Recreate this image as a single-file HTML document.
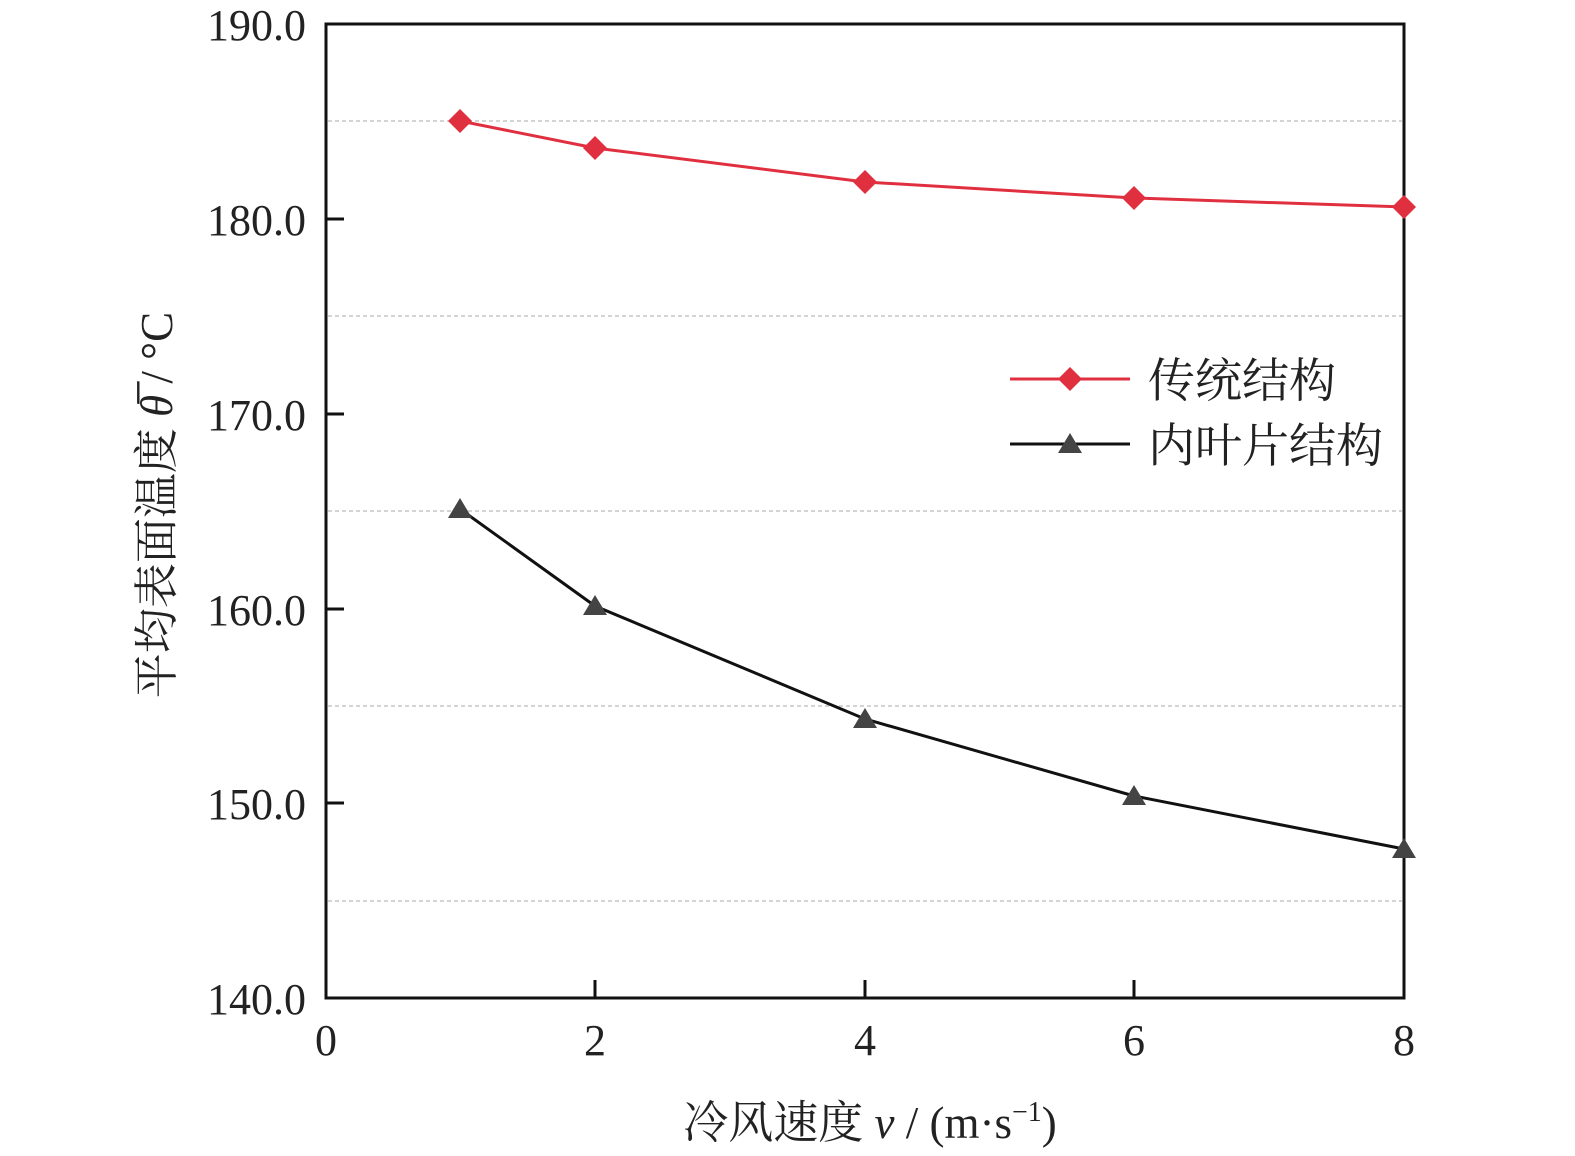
<!DOCTYPE html>
<html><head><meta charset="utf-8"><style>body{margin:0;background:#fff}svg{display:block}</style></head><body>
<svg width="1575" height="1156" viewBox="0 0 1575 1156" xmlns="http://www.w3.org/2000/svg" font-family="'Liberation Serif','Noto Serif CJK SC',serif">
<g stroke="#bbb" stroke-width="1.2" stroke-dasharray="4,3">
<line x1="328" y1="121" x2="1402" y2="121"/><line x1="328" y1="316" x2="1402" y2="316"/><line x1="328" y1="511" x2="1402" y2="511"/><line x1="328" y1="706" x2="1402" y2="706"/><line x1="328" y1="901" x2="1402" y2="901"/>
</g>
<rect x="326" y="24" width="1078" height="974" fill="none" stroke="#111" stroke-width="3"/>
<g stroke="#111" stroke-width="3">
<line x1="326" y1="219" x2="344" y2="219"/><line x1="326" y1="414" x2="344" y2="414"/><line x1="326" y1="609" x2="344" y2="609"/><line x1="326" y1="803" x2="344" y2="803"/>
<line x1="595" y1="998" x2="595" y2="980"/><line x1="865" y1="998" x2="865" y2="980"/><line x1="1134" y1="998" x2="1134" y2="980"/>
</g>
<g font-size="44" fill="#222" text-anchor="end">
<text x="306" y="40">190.0</text><text x="306" y="235">180.0</text><text x="306" y="430">170.0</text><text x="306" y="625">160.0</text><text x="306" y="819">150.0</text><text x="306" y="1014">140.0</text>
</g>
<g font-size="44" fill="#222" text-anchor="middle">
<text x="326" y="1055">0</text><text x="595" y="1055">2</text><text x="865" y="1055">4</text><text x="1134" y="1055">6</text><text x="1404" y="1055">8</text>
</g>
<text x="870" y="1138" font-size="45" fill="#222" text-anchor="middle">冷风速度 <tspan font-style="italic">v</tspan> / (m·s<tspan font-size="28" dy="-17">−1</tspan><tspan dy="17">)</tspan></text>
<text transform="translate(172,505) rotate(-90)" font-size="45" fill="#222" text-anchor="middle">平均表面温度 <tspan font-style="italic">θ̅</tspan> / °C</text>
<polyline points="460,121 595,148 865,182 1134,198 1404,207" fill="none" stroke="#e03040" stroke-width="3"/>
<g fill="#e0303f">
<path d="M460,109 L472,121 L460,133 L448,121Z"/><path d="M595,136 L607,148 L595,160 L583,148Z"/><path d="M865,170 L877,182 L865,194 L853,182Z"/><path d="M1134,186 L1146,198 L1134,210 L1122,198Z"/><path d="M1404,195 L1416,207 L1404,219 L1392,207Z"/>
</g>
<polyline points="460,509 595,606 865,719 1134,796 1404,849" fill="none" stroke="#111" stroke-width="3"/>
<g fill="#444">
<path d="M460,498 L472,518 L448,518Z"/><path d="M595,595 L607,615 L583,615Z"/><path d="M865,708 L877,728 L853,728Z"/><path d="M1134,785 L1146,805 L1122,805Z"/><path d="M1404,838 L1416,858 L1392,858Z"/>
</g>
<line x1="1010" y1="379" x2="1130" y2="379" stroke="#e03040" stroke-width="3"/>
<path d="M1070,367 L1082,379 L1070,391 L1058,379Z" fill="#e0303f"/>
<line x1="1010" y1="444" x2="1130" y2="444" stroke="#111" stroke-width="3"/>
<path d="M1070,433 L1082,453 L1058,453Z" fill="#444"/>
<g font-size="47" fill="#222" font-family="'Noto Serif CJK SC',serif">
<text x="1148" y="397">传统结构</text><text x="1148" y="462">内叶片结构</text>
</g>
</svg>
</body></html>
